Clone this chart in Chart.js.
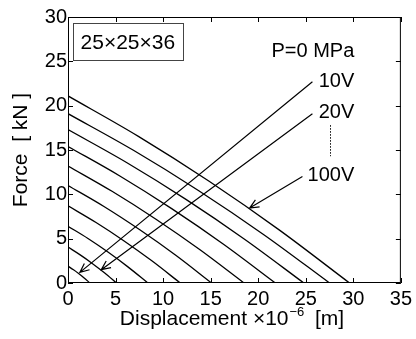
<!DOCTYPE html>
<html>
<head>
<meta charset="utf-8">
<script src="https://cdn.jsdelivr.net/npm/chart.js@4"></script>
<style>
  html, body { margin: 0; padding: 0; background: #fff; }
  #chart { display: block; }
</style>
</head>
<body>
<canvas id="chart" width="416" height="339"></canvas>
<script>
// 電圧ごとの力-変位特性 (P=0 MPa, 25x25x36)
const voltages = ['10V', '20V', '30V', '40V', '50V', '60V', '70V', '80V', '90V', '100V'];

// 変位 [x10^-6 m]
const dispPoints = [
  [0, 0.58, 1.15, 1.73, 2.3],
  [0, 1.28, 2.55, 3.83, 5.1],
  [0, 2.1, 4.2, 6.3, 8.4],
  [0, 2.95, 5.9, 8.85, 11.8],
  [0, 3.78, 7.55, 11.33, 15.1],
  [0, 4.63, 9.25, 13.88, 18.5],
  [0, 5.45, 10.9, 16.35, 21.8],
  [0, 6.2, 12.4, 18.6, 24.8],
  [0, 6.88, 13.75, 20.63, 27.5],
  [0, 7.4, 14.8, 22.2, 29.6]
];

// 力 [kN]
const forcePoints = [
  [1.9, 1.49, 1.04, 0.54, 0],
  [4.05, 3.17, 2.21, 1.15, 0],
  [6.4, 5.02, 3.49, 1.82, 0],
  [8.7, 6.82, 4.74, 2.47, 0],
  [11.0, 8.63, 6.0, 3.13, 0],
  [13.2, 10.34, 7.19, 3.74, 0],
  [15.4, 12.07, 8.39, 4.37, 0],
  [17.3, 13.56, 9.43, 4.91, 0],
  [19.1, 14.97, 10.41, 5.42, 0],
  [21.1, 16.54, 11.5, 5.99, 0]
];

const xTicks = [0, 5, 10, 15, 20, 25, 30, 35];
const yTicks = [0, 5, 10, 15, 20, 25, 30];

const FONT = '"Liberation Sans", Arial, Helvetica, sans-serif';

// 注記 (データ座標)
const arrows = [
  { from: [25.7, 22.7], to: [1.25, 1.2] },
  { from: [25.7, 19.1], to: [3.5, 1.5] },
  { from: [24.65, 12.0], to: [19.1, 8.45] }
];
const labels = [
  { text: 'P=0 MPa', at: [30.1, 26.1] },
  { text: '10V', at: [30.1, 22.7] },
  { text: '20V', at: [30.1, 19.2] },
  { text: '100V', at: [30.1, 12.1] }
];

const datasets = dispPoints.map((xs, i) => ({
  label: voltages[i],
  data: xs.map((x, j) => ({ x: x, y: forcePoints[i][j] })),
  borderColor: '#000',
  borderWidth: 1.3,
  pointRadius: 0,
  fill: false,
  cubicInterpolationMode: 'monotone'
}));

// 枠・内向き目盛・注記の描画
const decorations = {
  id: 'decorations',
  afterDraw(chart) {
    const ctx = chart.ctx;
    const xs = chart.scales.x, ys = chart.scales.y;
    const a = chart.chartArea;
    const px = v => xs.getPixelForValue(v);
    const py = v => ys.getPixelForValue(v);

    ctx.save();
    ctx.strokeStyle = '#000';
    ctx.fillStyle = '#000';
    ctx.lineWidth = 1;

    // 枠
    ctx.strokeRect(a.left + 0.5, a.top + 0.5, a.right - a.left - 1, a.bottom - a.top - 1);

    // 内向きの目盛
    const tl = 5;
    ctx.beginPath();
    xTicks.forEach(v => {
      const x = Math.round(px(v)) + 0.5;
      ctx.moveTo(x, a.bottom); ctx.lineTo(x, a.bottom - tl);
      ctx.moveTo(x, a.top); ctx.lineTo(x, a.top + tl);
    });
    yTicks.forEach(v => {
      const y = Math.round(py(v)) + 0.5;
      ctx.moveTo(a.left, y); ctx.lineTo(a.left + tl, y);
      ctx.moveTo(a.right, y); ctx.lineTo(a.right - tl, y);
    });
    ctx.stroke();

    // 矢印
    ctx.lineWidth = 1.2;
    arrows.forEach(ar => {
      const x1 = px(ar.from[0]), y1 = py(ar.from[1]);
      const x2 = px(ar.to[0]), y2 = py(ar.to[1]);
      ctx.beginPath();
      ctx.moveTo(x1, y1); ctx.lineTo(x2, y2);
      const ang = Math.atan2(y2 - y1, x2 - x1);
      const hl = 10, hw = 0.42;
      ctx.moveTo(x2 - hl * Math.cos(ang - hw), y2 - hl * Math.sin(ang - hw));
      ctx.lineTo(x2, y2);
      ctx.lineTo(x2 - hl * Math.cos(ang + hw), y2 - hl * Math.sin(ang + hw));
      ctx.stroke();
    });

    // 20V から 100V への点線
    ctx.lineWidth = 1;
    ctx.setLineDash([1.5, 1.5]);
    ctx.beginPath();
    ctx.moveTo(Math.round(px(27.6)) + 0.5, py(17.8));
    ctx.lineTo(Math.round(px(27.6)) + 0.5, py(14.3));
    ctx.stroke();
    ctx.setLineDash([]);

    // ラベル
    ctx.font = '20px ' + FONT;
    ctx.textAlign = 'right';
    ctx.textBaseline = 'middle';
    labels.forEach(l => ctx.fillText(l.text, px(l.at[0]), py(l.at[1])));

    // 寸法の枠
    const bx1 = px(0.49), bx2 = px(12.1), by1 = py(29.3), by2 = py(25.1);
    ctx.strokeStyle = '#444';
    ctx.strokeRect(Math.round(bx1) + 0.5, Math.round(by1) + 0.5, Math.round(bx2 - bx1), Math.round(by2 - by1));
    ctx.font = '21px ' + FONT;
    ctx.textAlign = 'center';
    ctx.fillText('25×25×36', (bx1 + bx2) / 2, (by1 + by2) / 2 + 1);

    // 軸タイトル
    ctx.font = '21px ' + FONT;
    ctx.save();
    ctx.translate(21, (a.top + a.bottom) / 2);
    ctx.rotate(-Math.PI / 2);
    ctx.textAlign = 'center';
    ctx.textBaseline = 'middle';
    ctx.fillText('Force  [ kN ]', 0, 0);
    ctx.restore();

    const p1 = 'Displacement ×10', p2 = '−6', p3 = '  [m]';
    ctx.font = '21px ' + FONT;
    const w1 = ctx.measureText(p1).width, w3 = ctx.measureText(p3).width;
    ctx.font = '13px ' + FONT;
    const w2 = ctx.measureText(p2).width;
    let x0 = 232 - (w1 + w2 + w3) / 2;
    const base = 325;
    ctx.textAlign = 'left';
    ctx.textBaseline = 'alphabetic';
    ctx.font = '21px ' + FONT;
    ctx.fillText(p1, x0, base);
    ctx.font = '13px ' + FONT;
    ctx.fillText(p2, x0 + w1 + 1, base - 9);
    ctx.font = '21px ' + FONT;
    ctx.fillText(p3, x0 + w1 + w2, base);
    ctx.restore();
  }
};

const ctx = document.getElementById('chart').getContext('2d');
const myChart = new Chart(ctx, {
  type: 'line',
  data: { datasets: datasets },
  options: {
    responsive: false,
    animation: false,
    events: [],
    layout: { padding: { top: 17, right: 12, left: 0, bottom: 0 } },
    plugins: {
      legend: { display: false },
      tooltip: { enabled: false }
    },
    scales: {
      x: {
        type: 'linear',
        min: 0,
        max: 35,
        afterFit: s => { s.height = 56; },
        afterBuildTicks: s => { s.ticks = xTicks.map(v => ({ value: v })); },
        grid: { display: false, drawTicks: false },
        border: { display: false },
        ticks: { color: '#000', padding: 4, font: { family: FONT, size: 20 }, maxRotation: 0 }
      },
      y: {
        type: 'linear',
        min: 0,
        max: 30,
        afterFit: s => { s.width = 68; },
        afterBuildTicks: s => { s.ticks = yTicks.map(v => ({ value: v })); },
        grid: { display: false, drawTicks: false },
        border: { display: false },
        ticks: { color: '#000', padding: 1, font: { family: FONT, size: 20 } }
      }
    }
  },
  plugins: [decorations]
});
</script>
</body>
</html>
